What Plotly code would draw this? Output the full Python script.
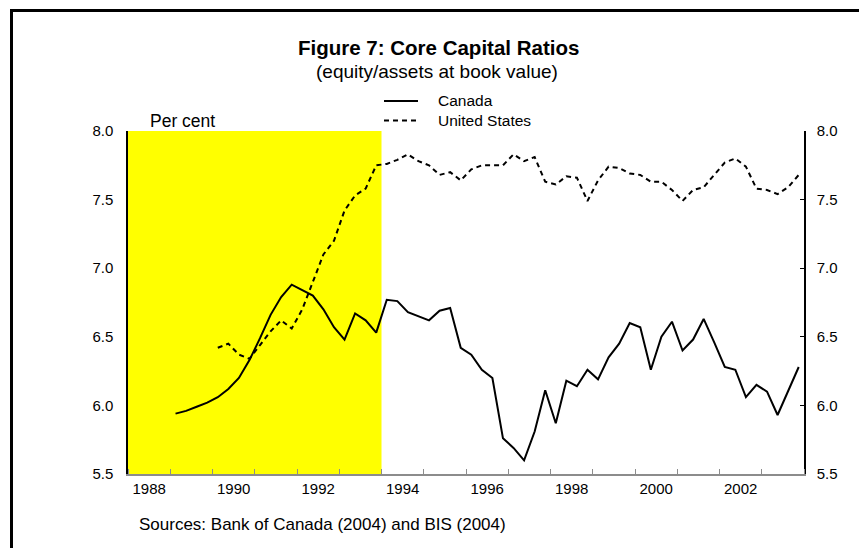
import plotly.graph_objects as go

# quarterly data, Canada from 1989Q1, United States from 1990Q1, both to 2003Q4
canada_start = 1989
canada = [5.94, 5.96, 5.99, 6.02, 6.06, 6.12, 6.20, 6.33, 6.49, 6.66,
          6.79, 6.88, 6.84, 6.80, 6.70, 6.57, 6.48, 6.67, 6.62, 6.53,
          6.77, 6.76, 6.68, 6.65, 6.62, 6.69, 6.71, 6.42, 6.37, 6.26,
          6.20, 5.76, 5.69, 5.60, 5.81, 6.11, 5.87, 6.18, 6.14, 6.26,
          6.19, 6.35, 6.45, 6.60, 6.57, 6.26, 6.50, 6.61, 6.40, 6.48,
          6.63, 6.46, 6.28, 6.26, 6.06, 6.15, 6.10, 5.93, 6.11, 6.28]

us_start = 1990
united_states = [6.42, 6.45, 6.37, 6.34, 6.44, 6.54, 6.62, 6.56, 6.70, 6.90,
                 7.10, 7.20, 7.42, 7.53, 7.58, 7.75,
                 7.76, 7.79, 7.83, 7.78, 7.75, 7.68, 7.70, 7.64, 7.72, 7.75,
                 7.75, 7.75, 7.83, 7.78, 7.81, 7.63, 7.61, 7.67, 7.66, 7.49,
                 7.64, 7.74, 7.73, 7.69, 7.68, 7.63, 7.63, 7.57, 7.49, 7.57,
                 7.59, 7.68, 7.77, 7.80, 7.74, 7.58, 7.57, 7.54, 7.59, 7.68]

series_names = ['Canada', 'United States']
series_dash = ['solid', '5px,4px']

shade_years = [1988, 1994]
label_years = [1988, 1990, 1992, 1994, 1996, 1998, 2000, 2002]
y_ticks = [5.5, 6.0, 6.5, 7.0, 7.5, 8.0]

W, H = 859, 548
ml, mr, mt, mb = 128, 55, 131, 74
font = 'Arial, Liberation Sans, sans-serif'


def quarter_x(start, n):
    # mid-quarter position in fractional years
    return [start + (i + 0.5) / 4 for i in range(n)]


def px(x):
    return (x - ml) / (W - ml - mr)


def py(y):
    return (H - mb - y) / (H - mt - mb)


fig = go.Figure()

fig.add_trace(go.Scatter(x=quarter_x(canada_start, len(canada)), y=canada,
                         mode='lines', name=series_names[0], showlegend=False,
                         line=dict(color='black', width=2, dash=series_dash[0])))

fig.add_trace(go.Scatter(x=quarter_x(us_start, len(united_states)), y=united_states,
                         mode='lines', name=series_names[1], showlegend=False,
                         line=dict(color='black', width=2, dash=series_dash[1])))

# invisible trace to carry the right-hand axis
fig.add_trace(go.Scatter(x=[shade_years[0]], y=[y_ticks[0]], yaxis='y2',
                         mode='lines', showlegend=False, hoverinfo='skip',
                         line=dict(color='rgba(0,0,0,0)')))

fig.add_shape(type='rect', xref='x', yref='paper',
              x0=shade_years[0], x1=shade_years[1], y0=0, y1=1,
              fillcolor='#FFFF00', line_width=0, layer='below')

# outer frame
fig.add_shape(type='rect', xref='paper', yref='paper',
              x0=px(11.5), x1=px(W + 20), y0=py(H + 20), y1=py(10.5),
              line=dict(color='black', width=3))

# legend drawn by hand: short line sample then the name
for i, (name, dash) in enumerate(zip(series_names, series_dash)):
    ly = 101 + 19.5 * i
    fig.add_shape(type='line', xref='paper', yref='paper',
                  x0=px(384), x1=px(418), y0=py(ly), y1=py(ly),
                  line=dict(color='black', width=2, dash=dash))
    fig.add_annotation(text=name, xref='paper', yref='paper',
                       x=px(436), y=py(ly), xanchor='left', yanchor='middle',
                       showarrow=False, font=dict(size=15.5))

fig.update_layout(
    width=W, height=H,
    margin=dict(l=ml, r=mr, t=mt, b=mb),
    paper_bgcolor='white', plot_bgcolor='white',
    font=dict(family=font, size=15, color='black'),
    showlegend=False,
    xaxis=dict(range=[1988, 2004], showgrid=False, zeroline=False,
               showline=True, linecolor='#8c8c8c', linewidth=2,
               tickmode='array', tickvals=[y + 0.5 for y in label_years],
               ticktext=[str(y) for y in label_years], ticks='',
               tickfont=dict(size=15),
               minor=dict(ticks='inside', dtick=1, tick0=1988, ticklen=5,
                          tickcolor='#8c8c8c', tickwidth=1, showgrid=False)),
    yaxis=dict(range=[5.5, 8.0], showgrid=False, zeroline=False,
               showline=True, linecolor='black', linewidth=1.5,
               tickmode='array', tickvals=y_ticks, tickformat='.1f',
               ticks='', ticklabelstandoff=10, tickfont=dict(size=15)),
    yaxis2=dict(range=[5.5, 8.0], overlaying='y', side='right',
                showgrid=False, zeroline=False,
                showline=True, linecolor='black', linewidth=1.5,
                tickmode='array', tickvals=y_ticks, tickformat='.1f',
                ticks='inside', ticklen=4, tickcolor='black',
                ticklabelstandoff=8, tickfont=dict(size=15)),
)

fig.add_annotation(text='<b>Figure 7: Core Capital Ratios</b>',
                   xref='paper', yref='paper', x=px(438), y=py(47.5),
                   xanchor='center', yanchor='middle',
                   showarrow=False, font=dict(size=20.5))
fig.add_annotation(text='(equity/assets at book value)',
                   xref='paper', yref='paper', x=px(437), y=py(71.5),
                   xanchor='center', yanchor='middle',
                   showarrow=False, font=dict(size=19))
fig.add_annotation(text='Per cent',
                   xref='paper', yref='paper', x=px(182.5), y=py(121),
                   xanchor='center', yanchor='middle',
                   showarrow=False, font=dict(size=17.5))
fig.add_annotation(text='Sources: Bank of Canada (2004) and BIS (2004)',
                   xref='paper', yref='paper', x=px(137), y=py(524),
                   xanchor='left', yanchor='middle',
                   showarrow=False, font=dict(size=17))

# drop the default page margin so the figure sits at the window corner
fig.write_html("out.html", config={'displayModeBar': False},
               post_script="document.body.style.margin='0';")
